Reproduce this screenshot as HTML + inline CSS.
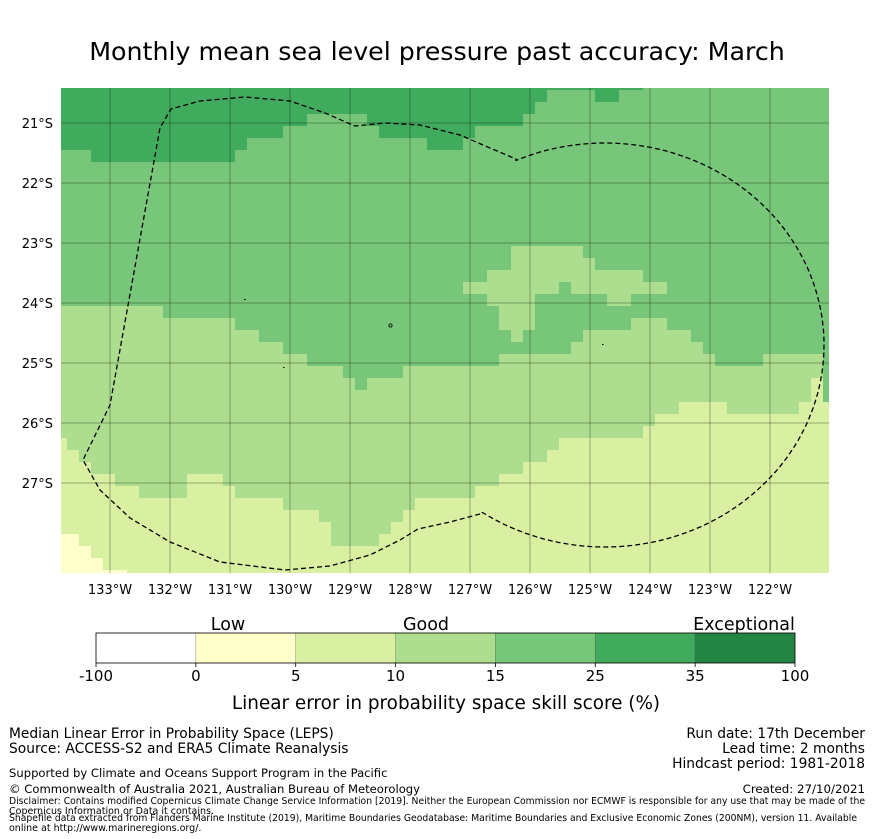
<!DOCTYPE html>
<html><head><meta charset="utf-8">
<style>
html,body{margin:0;padding:0;background:#fff;}
svg{display:block;font-family:"DejaVu Sans","Liberation Sans",sans-serif;}
</style></head>
<body>
<svg id="chart" width="873" height="839" viewBox="0 0 873 839" xmlns="http://www.w3.org/2000/svg">
<text x="437" y="60" font-size="25.3" text-anchor="middle" fill="#000">Monthly mean sea level pressure past accuracy: March</text>
<defs><clipPath id="mapclip"><rect x="61" y="88" width="768" height="485"/></clipPath></defs>
<g id="map" clip-path="url(#mapclip)"></g>
<g id="ylabels"></g>
<g id="xlabels"></g>
<g id="cbar"></g>
<text x="228" y="630" font-size="17.5" text-anchor="middle">Low</text>
<text x="426" y="630" font-size="17.5" text-anchor="middle">Good</text>
<text x="744" y="630" font-size="17.5" text-anchor="middle">Exceptional</text>
<text x="446" y="709" font-size="18.4" text-anchor="middle">Linear error in probability space skill score (%)</text>
<g font-size="13.8">
<text x="9" y="738">Median Linear Error in Probability Space (LEPS)</text>
<text x="9" y="753">Source: ACCESS-S2 and ERA5 Climate Reanalysis</text>
<text x="9" y="777" font-size="11.6">Supported by Climate and Oceans Support Program in the Pacific</text>
<text x="9" y="793" font-size="11.6">© Commonwealth of Australia 2021, Australian Bureau of Meteorology</text>
<text x="9" y="804" font-size="9.5" textLength="856" lengthAdjust="spacingAndGlyphs">Disclaimer: Contains modified Copernicus Climate Change Service Information [2019]. Neither the European Commission nor ECMWF is responsible for any use that may be made of the</text>
<text x="9" y="814" font-size="9.5">Copernicus Information or Data it contains.</text>
<text x="9" y="821" font-size="9.5" textLength="848" lengthAdjust="spacingAndGlyphs">Shapefile data extracted from Flanders Marine Institute (2019), Maritime Boundaries Geodatabase: Maritime Boundaries and Exclusive Economic Zones (200NM), version 11. Available</text>
<text x="9" y="831" font-size="9.5">online at http://www.marineregions.org/.</text>
</g>
<g font-size="13.8" text-anchor="end">
<text x="865" y="738">Run date: 17th December</text>
<text x="865" y="753">Lead time: 2 months</text>
<text x="865" y="768">Hindcast period: 1981-2018</text>
<text x="865" y="793" font-size="11.8">Created: 27/10/2021</text>
</g>
</svg>
<script>
// Grid cells are 0.2 degrees; row runs are "class:firstCol-lastCol"
const gridRuns = [
"5:0-48 4:49-64","5:0-40 4:41-44 5:45-46 4:47-64","5:0-39 4:40-64",
"5:0-20 4:21-25 5:26-38 4:39-64","5:0-18 4:19-26 5:27-34 4:35-64",
"5:0-15 4:16-30 5:31-33 4:34-64","4:0-2 5:3-14 4:15-64",
"4:0-64","4:0-64","4:0-64","4:0-64","4:0-64","4:0-64","4:0-64",
"4:0-37 3:38-43 4:44-64","4:0-37 3:38-44 4:45-64","4:0-35 3:36-48 4:49-64",
"4:0-33 3:34-41 4:42-42 3:43-50 4:51-64","4:0-35 3:36-39 4:40-45 3:46-47 4:48-64",
"3:0-8 4:9-36 3:37-39 4:40-64","3:0-14 4:15-36 3:37-39 4:40-47 3:48-50 4:51-64",
"3:0-16 4:17-37 3:38-38 4:39-43 3:44-52 4:53-64","3:0-18 4:19-42 3:43-53 4:54-64",
"3:0-20 4:21-36 3:37-54 4:55-58 3:59-63 4:64-64","3:0-23 4:24-28 3:29-63 4:64-64",
"3:0-24 4:25-25 3:26-62 2:63-63 4:64-64","3:0-62 2:63-63 4:64-64",
"3:0-51 2:52-55 3:56-61 2:62-64","3:0-49 2:50-64","3:0-48 2:49-64",
"2:0-0 3:1-41 2:42-64","2:0-1 3:2-40 2:41-64","2:0-2 3:3-38 2:39-64",
"2:0-4 3:5-10 2:11-13 3:14-36 2:37-64","2:0-6 3:7-10 2:11-14 3:15-34 2:35-64",
"2:0-18 3:19-29 2:30-64","2:0-21 3:22-28 2:29-64","2:0-22 3:23-27 2:28-64",
"1:0-1 2:2-22 3:23-26 2:27-64","1:0-2 2:3-64","1:0-3 2:4-64","1:0-5 2:6-64"
];
const gridLon0 = -133.9167;   // west edge of column 0
const gridLat0 = 20.25;       // north edge of row 0 (degrees S)
const cellDeg = 0.2;
const classColors = ["#ffffff","#ffffcc","#d9f0a3","#addd8e","#78c679","#41ab5d","#238443"];
const lonTicks = [-133,-132,-131,-130,-129,-128,-127,-126,-125,-124,-123,-122];
const latTicks = [21,22,23,24,25,26,27];
const cbarBounds = ["-100","0","5","10","15","25","35","100"];

const xS = lon => 110 + (lon + 133) * 60;
const yS = lat => 123 + (lat - 21) * 60;
const NS = "http://www.w3.org/2000/svg";
function mk(tag, attrs, parent){const e=document.createElementNS(NS,tag);for(const k in attrs)e.setAttribute(k,attrs[k]);parent.appendChild(e);return e;}

const map = document.getElementById('map');
gridRuns.forEach((row, r) => {
  row.split(' ').forEach(run => {
    const [cls, span] = run.split(':');
    const [a, b] = span.split('-').map(Number);
    const x0 = xS(gridLon0 + a * cellDeg), x1 = xS(gridLon0 + (b + 1) * cellDeg);
    const y0 = yS(gridLat0 + r * cellDeg), y1 = yS(gridLat0 + (r + 1) * cellDeg);
    const rc = mk('rect', {x:x0, y:y0, width:x1-x0+0.3, height:y1-y0+0.3, fill:classColors[+cls]}, map);
    
    
  });
});
lonTicks.forEach(lon => {
  const l = mk('line', {x1:xS(lon), x2:xS(lon), y1:88, y2:573, stroke:'rgba(0,0,0,0.3)', 'stroke-width':1}, map);
  
  
  const t = mk('text', {x:xS(lon), y:594, 'font-size':13, 'text-anchor':'middle'}, document.getElementById('xlabels'));
  t.textContent = Math.abs(lon) + '°W';
  
  
});
latTicks.forEach(lat => {
  const l = mk('line', {x1:61, x2:829, y1:yS(lat), y2:yS(lat), stroke:'rgba(0,0,0,0.3)', 'stroke-width':1}, map);
  
  
  const t = mk('text', {x:53, y:yS(lat)+5, 'font-size':13, 'text-anchor':'end'}, document.getElementById('ylabels'));
  t.textContent = lat + '°S';
  
  
});

// EEZ boundary (pixel geometry)
const pts = [];
[[480,514],[450,522],[418,529],[400,540],[370,555],[330,566],[285,570],[220,562],[170,542],[130,518],[100,490],[83,460]].forEach(p=>pts.push(p));
const leftPts = [[110,405],[160,128],[171,109],[200,101],[245,97],[290,101],[325,113],[355,126],[385,123],[420,125],[460,135],[490,148],[516,159]];
// bottom-left curve is smooth; left side straight
let d = 'M' + pts.map(p=>p.join(',')).join(' L');
d += ' L' + leftPts.map(p=>p.join(',')).join(' L');
const cx=605, cy=345, rx=219, ry=202;
for (let a=-114; a<=124; a+=2) {
  const t=a*Math.PI/180;
  d += ' L' + (cx+rx*Math.cos(t)).toFixed(1) + ',' + (cy+ry*Math.sin(t)).toFixed(1);
}
d += ' Z';
const bp = mk('path', {d:d, fill:'none', stroke:'#000', 'stroke-width':1.3, 'stroke-dasharray':'5,3', 'stroke-linejoin':'round'}, map);


[[244,299],[283,367],[602,344]].forEach(p => {
  const c = mk('rect', {x:p[0], y:p[1], width:1.5, height:1, fill:'#000'}, map);
  
  
});
const isl = mk('circle', {cx:390.5, cy:325.5, r:1.6, fill:'none', stroke:'#000', 'stroke-width':0.8}, map);



const cb = document.getElementById('cbar');
const cbX = 96, cbW = 699, cbY = 633, cbH = 30, seg = cbW / 7;
classColors.forEach((col, i) => {
  const r = mk('rect', {x:cbX + i*seg, y:cbY, width:seg, height:cbH, fill:col, stroke:'rgba(0,0,0,0.25)', 'stroke-width':0.6}, cb);
  
  
});
const fr = mk('rect', {x:cbX, y:cbY, width:cbW, height:cbH, fill:'none', stroke:'#000', 'stroke-width':0.8}, cb);


cbarBounds.forEach((lab, i) => {
  const x = cbX + i*seg;
  const tk = mk('line', {x1:x, x2:x, y1:cbY+cbH, y2:cbY+cbH+4, stroke:'#000', 'stroke-width':0.8}, cb);
  
  
  const t = mk('text', {x:x, y:681, 'font-size':15, 'text-anchor':'middle'}, cb);
  t.textContent = lab;
  
  
});
</script>
</body></html>
